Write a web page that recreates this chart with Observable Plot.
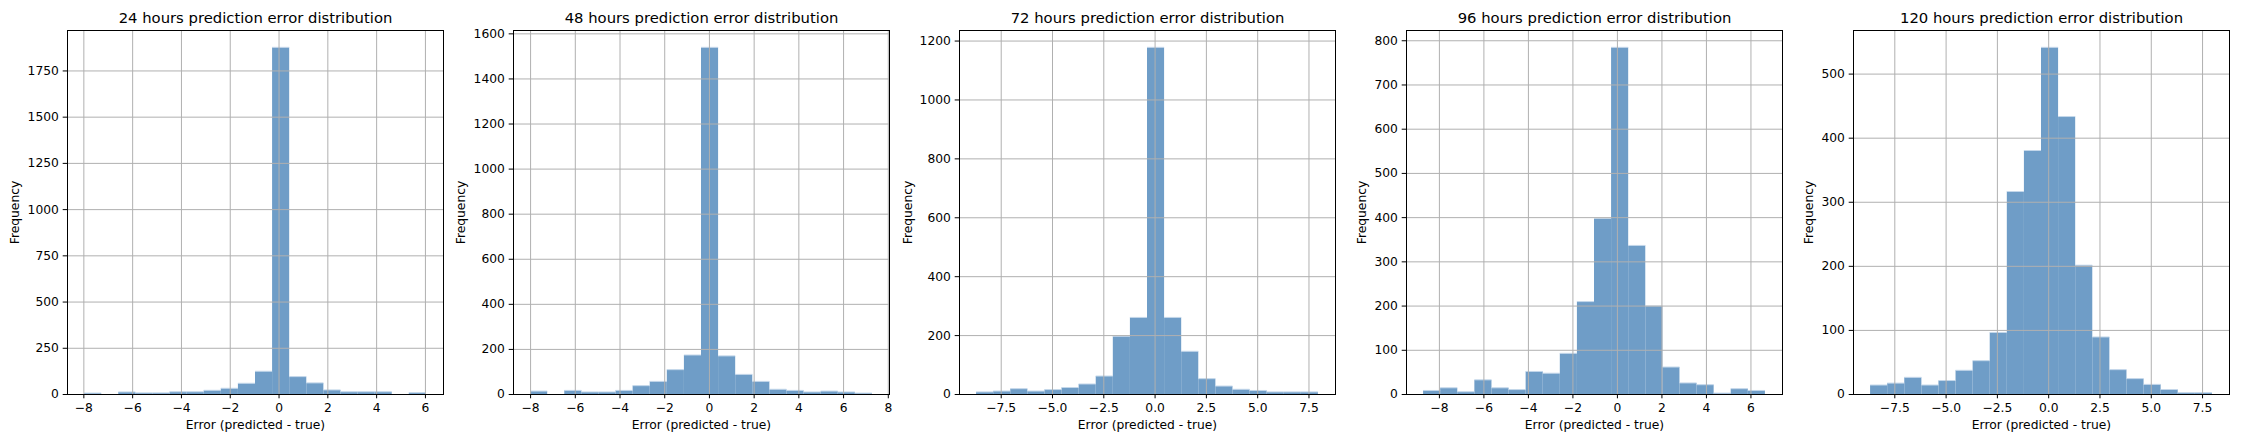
<!DOCTYPE html>
<html>
<head>
<meta charset="utf-8">
<script src="https://cdn.jsdelivr.net/npm/d3@7"></script>
<script src="https://cdn.jsdelivr.net/npm/@observablehq/plot@0.6"></script>
<style>
  html, body { margin: 0; padding: 0; background: #fff; }
  #root { position: relative; width: 2244px; height: 444px; overflow: hidden; font-family: "DejaVu Sans", sans-serif; }
  .panel { position: absolute; top: 0; }
  .panel svg { max-width: none; overflow: visible; }
</style>
</head>
<body>
<div id="root"></div>
<script>
// ---- data ----
const titles = [
  "24 hours prediction error distribution",
  "48 hours prediction error distribution",
  "72 hours prediction error distribution",
  "96 hours prediction error distribution",
  "120 hours prediction error distribution"
];
// 20 equal-width histogram bins per horizon, spanning [errMin, errMax]
const counts24  = [5, 0, 11, 6, 6, 12, 12, 20, 31, 58, 123, 1875, 94, 60, 22, 12, 12, 12, 0, 7];
const counts48  = [13, 0, 16, 9, 9, 16, 37, 56, 108, 173, 1538, 169, 87, 56, 21, 16, 9, 13, 9, 4];
const counts72  = [7, 10, 18, 10, 15, 22, 34, 61, 196, 260, 1177, 260, 145, 52, 27, 16, 12, 7, 7, 7];
const counts96  = [8, 14, 5, 32, 14, 10, 51, 47, 92, 209, 397, 784, 336, 199, 61, 25, 21, 2, 12, 8];
const counts120 = [14, 17, 26, 14, 21, 37, 52, 96, 316, 380, 541, 433, 201, 89, 38, 24, 15, 7, 2, 2];
const errMin = [-7.97, -8.0, -8.70, -8.71, -8.68];
const errMax = [6.04, 7.29, 7.96, 6.65, 7.98];

const xTicks24  = [-8, -6, -4, -2, 0, 2, 4, 6];
const xTicks48  = [-8, -6, -4, -2, 0, 2, 4, 6, 8];
const xTicks72  = [-7.5, -5, -2.5, 0, 2.5, 5, 7.5];
const xTicks96  = [-8, -6, -4, -2, 0, 2, 4, 6];
const xTicks120 = [-7.5, -5, -2.5, 0, 2.5, 5, 7.5];
const yTicks24  = [0, 250, 500, 750, 1000, 1250, 1500, 1750];
const yTicks48  = [0, 200, 400, 600, 800, 1000, 1200, 1400, 1600];
const yTicks72  = [0, 200, 400, 600, 800, 1000, 1200];
const yTicks96  = [0, 100, 200, 300, 400, 500, 600, 700, 800];
const yTicks120 = [0, 100, 200, 300, 400, 500];
const xLabel = "Error (predicted - true)";
const yLabel = "Frequency";

// ---- layout ----
const allCounts = [counts24, counts48, counts72, counts96, counts120];
const allXTicks = [xTicks24, xTicks48, xTicks72, xTicks96, xTicks120];
const allYTicks = [yTicks24, yTicks48, yTicks72, yTicks96, yTicks120];
const xFormats = [d3.format("d"), d3.format("d"), d3.format(".1f"), d3.format("d"), d3.format(".1f")];
const axesLeft = [67, 513, 959, 1406, 1853];
const yLabelOffset = [52, 52, 51, 44, 44];
const plotW = 376;
const mL = 67, mR = 3, mT = 30, mB = 50, H = 444;
const barColor = "#6f9dc7";
const gridColor = "#b0b0b0";

const root = document.getElementById("root");

titles.forEach((title, p) => {
  const counts = allCounts[p];
  const n = counts.length;
  const w = (errMax[p] - errMin[p]) / n;
  const bins = counts.map((c, i) => ({x1: errMin[p] + i * w, x2: errMin[p] + (i + 1) * w, count: c}));
  const span = errMax[p] - errMin[p];
  const xDomain = [errMin[p] - 0.05 * span, errMax[p] + 0.05 * span];
  const yDomain = [0, d3.max(counts) * 1.05];

  const chart = Plot.plot({
    width: mL + plotW + mR,
    height: H,
    marginLeft: mL, marginRight: mR, marginTop: mT, marginBottom: mB,
    style: {fontFamily: "DejaVu Sans, sans-serif", fontSize: "12.3px", color: "black", background: "transparent", overflow: "visible"},
    x: {domain: xDomain},
    y: {domain: yDomain},
    marks: [
      Plot.rectY(bins, {x1: "x1", x2: "x2", y: "count", fill: barColor}),
      Plot.ruleY(bins.filter(d => d.count > 0), {y: "count", x1: "x1", x2: "x2", stroke: "#c4d7ea", strokeWidth: 1, dy: -0.5}),
      Plot.gridX(allXTicks[p], {stroke: gridColor, strokeOpacity: 1, strokeWidth: 1}),
      Plot.gridY(allYTicks[p], {stroke: gridColor, strokeOpacity: 1, strokeWidth: 1}),
      Plot.axisX({ticks: allXTicks[p], tickFormat: xFormats[p], tickSize: 4.3, tickPadding: 4.3, fontSize: 12.3, label: null, stroke: "black", fill: "black"}),
      Plot.axisY({ticks: allYTicks[p], tickFormat: d3.format("d"), tickSize: 4.3, tickPadding: 4.3, fontSize: 12.3, label: null, stroke: "black", fill: "black"}),
      Plot.frame({stroke: "black", strokeWidth: 1}),
      Plot.text([title], {text: d => d, frameAnchor: "top", dy: -7.3, lineAnchor: "bottom", fontSize: 14.8, fill: "black"}),
      Plot.text([xLabel], {text: d => d, frameAnchor: "bottom", dy: 34.5, lineAnchor: "bottom", fontSize: 12.3, fill: "black"}),
      Plot.text([yLabel], {text: d => d, frameAnchor: "left", dx: -yLabelOffset[p], rotate: -90, lineAnchor: "middle", textAnchor: "middle", fontSize: 12.3, fill: "black"})
    ]
  });
  const div = document.createElement("div");
  div.className = "panel";
  div.style.left = (axesLeft[p] - mL) + "px";
  div.style.width = (mL + plotW + mR) + "px";
  div.appendChild(chart);
  root.appendChild(div);
});
</script>
</body>
</html>
